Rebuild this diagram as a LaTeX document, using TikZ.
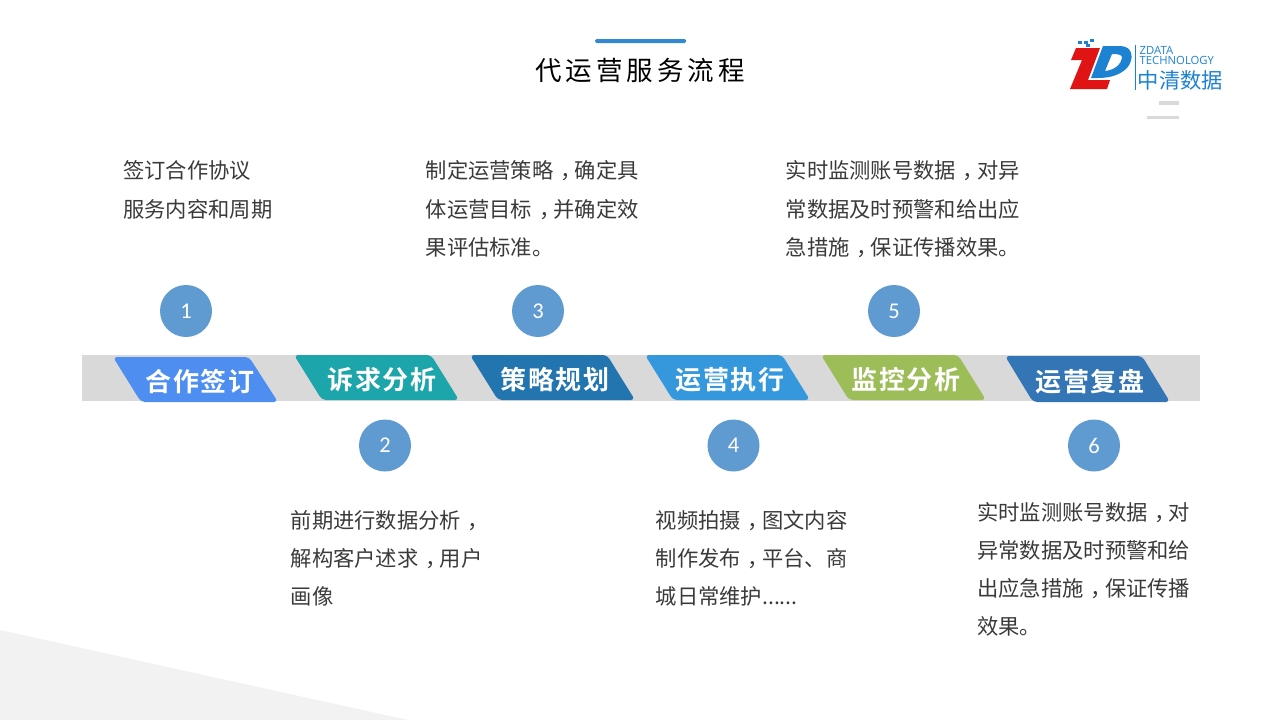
\documentclass[tikz,border=0pt]{standalone}
\usepackage{fontspec}
\setmainfont{Noto Sans CJK SC}
\newfontfamily\numfont{Carlito}
\newfontfamily\logofont{Open Sans}
\newfontfamily\tabfont[LetterSpace=6]{Noto Sans CJK SC Bold}
\newfontfamily\titlefont[LetterSpace=15]{Noto Sans CJK SC}
\usetikzlibrary{positioning}
\definecolor{barcol}{HTML}{D9D9D9}
\definecolor{dotcol}{HTML}{5F9BD1}
\definecolor{textcol}{HTML}{3A3A3A}
\definecolor{logoblue}{HTML}{1E82D2}
\definecolor{logored}{HTML}{E01414}
\definecolor{tabblue}{HTML}{4D8EF0}
\definecolor{tabteal}{HTML}{1CA5AB}
\definecolor{tabdark}{HTML}{2275AF}
\definecolor{tabsky}{HTML}{3698DC}
\definecolor{tabgreen}{HTML}{9DBD58}
\definecolor{tabsteel}{HTML}{3476B5}
\newcommand{\midcomma}{\kern.32em，\kern-.32em}
\tikzset{
  x=1pt,y=-1pt,
  numdot/.style={circle,fill=dotcol,minimum size=52pt,inner sep=0pt,text=white,font=\numfont\fontsize{22.5}{22.5}\selectfont},
  tabtext/.style={text=white,inner sep=0pt,font=\tabfont\fontsize{26}{26}\selectfont},
  desc/.style={anchor=north west,inner sep=0pt,align=left,text=textcol,font=\fontsize{21.3}{38.6}\selectfont},
  desclow/.style={desc,font=\fontsize{21.3}{38}\selectfont},
  tabshape/.style={fill=#1,rounded corners=4pt},
}
\begin{document}
\begin{tikzpicture}
   \useasboundingbox (0,0) rectangle (1280,720);
   \fill[black!5] (0,630) -- (408,720) -- (0,720) -- cycle;

   % title
   \fill[rounded corners=1.5pt,color=logoblue!70!dotcol] (595,39) rectangle (686,43);
   \draw (640,70.5) node[inner sep=0pt,text=black,font=\titlefont\fontsize{26.5}{26.5}\selectfont] (title) {代运营服务流程};

   % logo
   \fill[logored] (1076,48) -- (1100,48) -- (1088,80) -- (1110,80) -- (1107,89) -- (1070,89) -- (1082,60) -- (1071,60) -- cycle;
   \fill[logoblue,even odd rule] (1103,46) -- (1120,46) .. controls (1134,46) and (1134,60) .. (1127,68) .. controls (1120,75) and (1110,78) .. (1098,78) -- (1091,78) -- cycle
     (1112,54) -- (1105,71) .. controls (1115,70) and (1121,64) .. (1122,58) .. controls (1122,55) and (1120,54) .. (1112,54) -- cycle;
   \foreach \dotx/\doty in {1078/41,1084/41,1090/39,1086/44}
     \fill[logoblue] (\dotx,\doty) rectangle ++(4,3);
   \draw[logoblue,line width=.6pt] (1135,45) -- (1135,90);
   \draw (1139.5,50) node[anchor=west,inner sep=0pt,text=logoblue,font=\logofont\fontsize{11.3}{11.3}\selectfont] (zdata) {ZDATA};
   \draw (1139.5,60.5) node[anchor=west,inner sep=0pt,text=logoblue,font=\logofont\fontsize{11.3}{11.3}\selectfont] (tech) {TECHNOLOGY};
   \draw (1180.5,80) node[inner sep=0pt,text=logoblue,font=\fontsize{21.3}{21.3}\selectfont] (zhongqing) {中清数据};
   \fill[barcol] (1159,101) rectangle (1179,105);
   \fill[barcol] (1147,116) rectangle (1179,119);

   % bar
   \fill[barcol] (82,355) rectangle (1200,401);
   \fill[tabshape=tabblue] (113,357) -- (249,357) -- (278,402) -- (141,402) -- cycle;
   \fill[tabshape=tabteal] (294,355) -- (431,355) -- (459,400) -- (322,400) -- cycle;
   \fill[tabshape=tabdark] (470,355) -- (607,355) -- (635,400) -- (498,400) -- cycle;
   \fill[tabshape=tabsky] (645,355) -- (782,355) -- (810,400) -- (673,400) -- cycle;
   \fill[tabshape=tabgreen] (821,355) -- (958,355) -- (986,400) -- (849,400) -- cycle;
   \fill[tabshape=tabsteel] (1005,356) -- (1142,356) -- (1170,402) -- (1033,402) -- cycle;

   \draw (200,381) node[tabtext] (he) {合作签订};
   \draw (382,380) node[tabtext] (su) {诉求分析};
   \draw (555,380) node[tabtext] (ce) {策略规划};
   \draw (730,380) node[tabtext] (zhi) {运营执行};
   \draw (906,380) node[tabtext] (jian) {监控分析};
   \draw (1090,382) node[tabtext] (fu) {运营复盘};

   % numbers
   \draw (186,311) node[numdot] (n1) {1};
   \draw (385,445.5) node[numdot] (n2) {2};
   \draw (538,311) node[numdot] (n3) {3};
   \draw (733.5,445.5) node[numdot] (n4) {4};
   \draw (894,311) node[numdot] (n5) {5};
   \draw (1094,445.5) node[numdot] (n6) {6};

   % texts
   \draw (123,160.5) node[desc] (d1) {签订合作协议\\服务内容和周期};
   \draw (425.5,160.5) node[desc] (d3) {制定运营策略\midcomma 确定具\\体运营目标\midcomma 并确定效\\果评估标准。};
   \draw (785.5,160.5) node[desc] (d5) {实时监测账号数据\midcomma 对异\\常数据及时预警和给出应\\急措施\midcomma 保证传播效果。};
   \draw (290.5,510) node[desclow] (d2) {前期进行数据分析\midcomma\\解构客户述求\midcomma 用户\\画像};
   \draw (655.5,510) node[desclow] (d4) {视频拍摄\midcomma 图文内容\\制作发布\midcomma 平台、商\\城日常维护......};
   \draw (977,502) node[desclow] (d6) {实时监测账号数据\midcomma 对\\异常数据及时预警和给\\出应急措施\midcomma 保证传播\\效果。};
\end{tikzpicture}
\end{document}
